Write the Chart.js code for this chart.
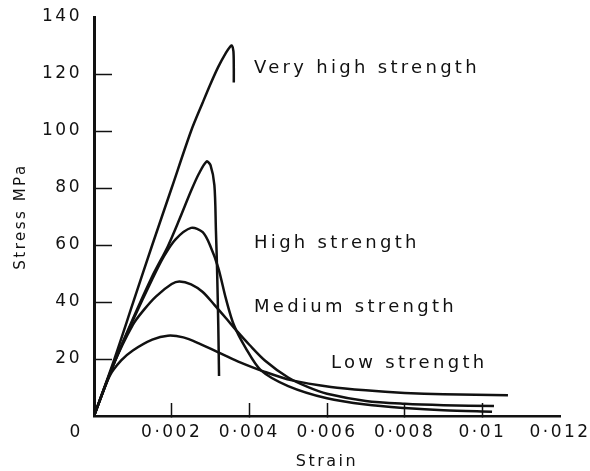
<!DOCTYPE html>
<html>
<head>
<meta charset="utf-8">
<script src="https://cdn.jsdelivr.net/npm/chart.js@4.4.1/dist/chart.umd.min.js"></script>
<style>
  html, body { margin: 0; padding: 0; background: #fff; }
  #wrap { width: 590px; height: 471px; }
</style>
</head>
<body>
<div id="wrap"><canvas id="stressChart"></canvas></div>
<script>
// strain / stress (MPa)
const veryHighStrain = [0, 0.0005, 0.001, 0.0015, 0.002, 0.0025, 0.0028, 0.003, 0.0032, 0.0034, 0.0035, 0.00355, 0.00359, 0.0036, 0.0036];
const veryHighStress = [0, 19, 39.5, 60, 80, 100, 110, 116.5, 122.5, 127.5, 129.5, 130, 128, 122, 117];

const peak90Strain = [0, 0.0005, 0.001, 0.0015, 0.0019, 0.0022, 0.0025, 0.0027, 0.0029, 0.003, 0.0031, 0.00314, 0.00317, 0.0032, 0.00322];
const peak90Stress = [0, 18, 34, 49, 59.5, 69, 79, 85, 89.3, 88, 81, 65, 51, 32, 14];

const highStrain = [0, 0.0005, 0.001, 0.0015, 0.0018, 0.0021, 0.0025, 0.0028, 0.003, 0.0032, 0.0034, 0.0036, 0.0039, 0.0043, 0.005, 0.006, 0.007, 0.008, 0.009, 0.01025];
const highStress = [0, 18, 33.5, 48, 56, 62, 66, 64.5, 59.5, 52, 41, 32, 24, 16, 10.5, 6.2, 4, 2.8, 2, 1.5];

const mediumStrain = [0, 0.0005, 0.001, 0.0013, 0.0016, 0.002, 0.0022, 0.0025, 0.0028, 0.0031, 0.0034, 0.0037, 0.004, 0.0044, 0.005, 0.0055, 0.006, 0.007, 0.008, 0.009, 0.0103];
const mediumStress = [0, 18, 32, 37.5, 42, 46.3, 47.2, 46.2, 43.5, 39, 34.3, 29.5, 25, 19.5, 13.5, 10.2, 7.8, 5.3, 4.3, 3.8, 3.5];

const lowStrain = [0, 0.0004, 0.0007, 0.001, 0.0015, 0.0019, 0.0023, 0.0027, 0.0032, 0.0037, 0.0044, 0.0051, 0.0061, 0.007, 0.008, 0.009, 0.01066];
const lowStress = [0, 14, 19.5, 23, 26.8, 28.2, 27.6, 25.5, 22.3, 19.2, 15.5, 12.5, 10.2, 9, 8.1, 7.6, 7.3];

const curveNames = ["Very high strength", "", "High strength", "Medium strength", "Low strength"];
const strainTicks = [0, 0.002, 0.004, 0.006, 0.008, 0.01, 0.012];
const stressTicks = [0, 20, 40, 60, 80, 100, 120, 140];

const INK = "#111";
const FONT = "'DejaVu Sans', sans-serif";

function toPoints(strain, stress) {
  return strain.map((s, i) => ({ x: s, y: stress[i] }));
}

function curve(label, strain, stress) {
  return {
    label: label,
    data: toPoints(strain, stress),
    borderColor: INK,
    borderWidth: 2.5,
    tension: 0.3,
    pointRadius: 0,
    fill: false,
  };
}

// curve names written beside the lines, and the shared "0" at the origin
const curveLabels = {
  id: "curveLabels",
  beforeDraw(chart) {
    chart.ctx.letterSpacing = "2.5px";
  },
  afterDraw(chart) {
    const { ctx, scales } = chart;
    const x = scales.x;
    const y = scales.y;
    const spots = [
      { strain: 0.00412, stress: 120.5 },
      null,
      { strain: 0.00412, stress: 59 },
      { strain: 0.00412, stress: 36.5 },
      { strain: 0.0061, stress: 16.8 },
    ];
    ctx.save();
    ctx.fillStyle = INK;
    ctx.font = "18px " + FONT;
    ctx.letterSpacing = "3.3px";
    ctx.textAlign = "left";
    ctx.textBaseline = "alphabetic";
    curveNames.forEach((name, i) => {
      if (!spots[i]) return;
      ctx.fillText(name, x.getPixelForValue(spots[i].strain), y.getPixelForValue(spots[i].stress));
    });
    ctx.font = "17px " + FONT;
    ctx.letterSpacing = "0px";
    ctx.textAlign = "center";
    ctx.textBaseline = "middle";
    ctx.fillText("0", x.getPixelForValue(0) - 19, y.getPixelForValue(0) + 17);
    ctx.restore();
  },
};

const ctxStress = document.getElementById("stressChart").getContext("2d");
new Chart(ctxStress, {
  type: "line",
  data: {
    datasets: [
      curve(curveNames[0], veryHighStrain, veryHighStress),
      curve("Peak 90 MPa", peak90Strain, peak90Stress),
      curve(curveNames[2], highStrain, highStress),
      curve(curveNames[3], mediumStrain, mediumStress),
      curve(curveNames[4], lowStrain, lowStress),
    ],
  },
  options: {
    responsive: true,
    maintainAspectRatio: false,
    animation: false,
    devicePixelRatio: 1,
    layout: { padding: { left: 0, top: 17, right: 30, bottom: 0 } },
    plugins: {
      legend: { display: false },
      tooltip: { enabled: false },
    },
    scales: {
      x: {
        type: "linear",
        min: strainTicks[0],
        max: strainTicks[strainTicks.length - 1],
        afterBuildTicks: (scale) => {
          scale.ticks = strainTicks.map((v) => ({ value: v }));
        },
        afterFit: (scale) => {
          scale.height = 55;
          scale.paddingLeft = 0;
          scale.paddingRight = 0;
        },
        border: { display: true, color: INK, width: 2.5 },
        grid: {
          drawOnChartArea: false,
          drawTicks: true,
          tickLength: -13,
          tickWidth: 1.5,
          tickColor: (c) => (c.tick && (c.tick.value === 0 || c.tick.value >= 0.012) ? "rgba(0,0,0,0)" : INK),
        },
        ticks: {
          autoSkip: false,
          maxRotation: 0,
          padding: 19,
          color: INK,
          font: { family: FONT, size: 17 },
          callback: (v) => (v === 0 ? "" : String(Number(v.toFixed(3))).replace(".", "·")),
        },
        title: {
          display: true,
          text: "Strain",
          color: INK,
          font: { family: FONT, size: 16 },
          padding: { top: 0, bottom: 0 },
        },
      },
      y: {
        min: stressTicks[0],
        max: stressTicks[stressTicks.length - 1],
        afterBuildTicks: (scale) => {
          scale.ticks = stressTicks.map((v) => ({ value: v }));
        },
        afterFit: (scale) => {
          scale.width = 94;
          scale.paddingTop = 0;
          scale.paddingBottom = 0;
        },
        border: { display: true, color: INK, width: 3 },
        grid: {
          drawOnChartArea: false,
          drawTicks: true,
          tickLength: -18,
          tickWidth: 1.5,
          tickColor: (c) => (c.tick && (c.tick.value === 0 || c.tick.value === 140) ? "rgba(0,0,0,0)" : INK),
        },
        ticks: {
          padding: 30,
          color: INK,
          font: { family: FONT, size: 17 },
          callback: (v) => (v === 0 ? "" : v),
        },
        title: {
          display: true,
          text: "Stress MPa",
          color: INK,
          font: { family: FONT, size: 15 },
          padding: { top: 12, bottom: 0 },
        },
      },
    },
  },
  plugins: [curveLabels],
});
</script>
</body>
</html>
